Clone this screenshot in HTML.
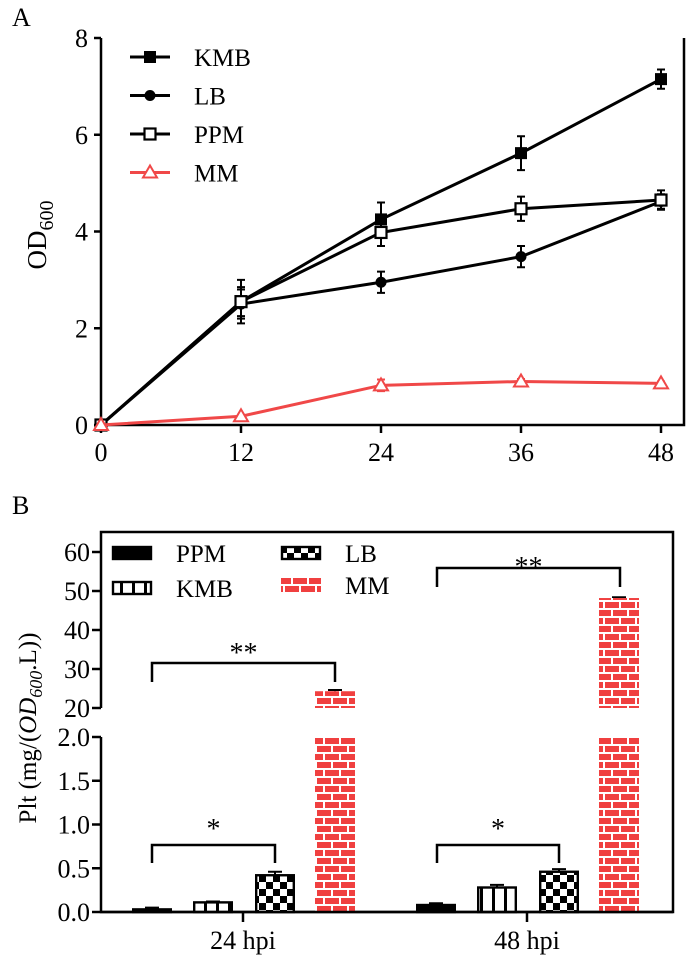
<!DOCTYPE html>
<html><head><meta charset="utf-8">
<style>
body{margin:0;background:#fff}
svg{display:block;font-family:"Liberation Serif",serif}
</style></head>
<body>
<svg id="chart" width="688" height="964" viewBox="0 0 688 964">
<defs>
<pattern id="brick" width="16" height="16" patternUnits="userSpaceOnUse" x="0" y="0">
<rect width="16" height="16" fill="#f04040"/>
<path d="M0 1H16M0 9H16M4 1V9M12 9V16" stroke="#fff" stroke-width="2"/>
</pattern>
<pattern id="checker" width="14" height="14" patternUnits="userSpaceOnUse">
<rect width="14" height="14" fill="#fff"/>
<rect width="7" height="7" fill="#000"/><rect x="7" y="7" width="7" height="7" fill="#000"/>
</pattern>
<pattern id="stripes" width="12" height="10" patternUnits="userSpaceOnUse">
<rect width="12" height="10" fill="#fff"/><rect x="0" width="3" height="10" fill="#000"/>
</pattern>
</defs>
<g id="panelA"></g>
<g id="panelB"></g>
</svg>
<script>
// Panel A data
const hours = [0, 12, 24, 36, 48];
const kmbA = [0, 2.55, 4.25, 5.62, 7.15];
const kmbErr = [0, 0.45, 0.35, 0.35, 0.2];
const lbA = [0, 2.5, 2.95, 3.48, 4.62];
const lbErr = [0, 0.3, 0.22, 0.22, 0.15];
const ppmA = [0, 2.55, 3.98, 4.47, 4.65];
const ppmErr = [0, 0.3, 0.28, 0.25, 0.2];
const mmA = [0, 0.18, 0.82, 0.9, 0.86];
const mmErr = [0, 0.03, 0.12, 0.05, 0.04];
const yTicksA = [0, 2, 4, 6, 8];
// Panel B data
const groupsB = ["24 hpi", "48 hpi"];
const mediaB = ["PPM", "KMB", "LB", "MM"];
const valB24 = [0.03, 0.11, 0.42, 24.3];
const valB48 = [0.08, 0.28, 0.46, 48.2];
const errB24 = [0.02, 0.01, 0.04, 0.3];
const errB48 = [0.02, 0.03, 0.03, 0.2];
const lowTicksB = ["0.0", "0.5", "1.0", "1.5", "2.0"];
const highTicksB = [20, 30, 40, 50, 60];

const NS = "http://www.w3.org/2000/svg";
const FS = 26;
function mk(parent, tag, attrs, text){
  const e = document.createElementNS(NS, tag);
  for (const k in attrs) e.setAttribute(k, attrs[k]);
  if (text !== undefined) e.textContent = text;
  parent.appendChild(e);
  return e;
}
// ---------- Panel A ----------
const A = document.getElementById('panelA');
const ax = h => 101 + (h / 48) * 560;
const ay = v => 425 - (v / 8) * 387;
let t = mk(A, 'text', {x: 12, y: 26, 'font-size': 26}, 'A');


let fr = mk(A, 'path', {d: `M101 38V425H684V38`, fill: 'none', stroke: '#000', 'stroke-width': 2.5});


yTicksA.forEach(v => {
  mk(A, 'line', {x1: 94, x2: 101, y1: ay(v), y2: ay(v), stroke: '#000', 'stroke-width': 2.5});
  const l = mk(A, 'text', {x: 88, y: ay(v) + 9, 'font-size': FS, 'text-anchor': 'end'}, v);
  
  
});
hours.forEach(h => {
  mk(A, 'line', {x1: ax(h), x2: ax(h), y1: 425, y2: 433, stroke: '#000', 'stroke-width': 2.5});
  const l = mk(A, 'text', {x: ax(h), y: 461, 'font-size': FS, 'text-anchor': 'middle'}, h);
  
  
});
let yt = mk(A, 'text', {transform: 'translate(46,235) rotate(-90)', 'font-size': 27, 'text-anchor': 'middle'});


mk(yt, 'tspan', {}, 'OD');
mk(yt, 'tspan', {dy: 7, 'font-size': 20}, '600');

function marker(g, type, x, y, color){
  if (type === 'sq') mk(g, 'rect', {x: x-6, y: y-6, width: 12, height: 12, fill: '#000'});
  if (type === 'circ') mk(g, 'circle', {cx: x, cy: y, r: 5.5, fill: '#000'});
  if (type === 'osq') mk(g, 'rect', {x: x-5.5, y: y-5.5, width: 11, height: 11, fill: '#fff', stroke: '#000', 'stroke-width': 2.2});
  if (type === 'tri') mk(g, 'path', {d: `M${x} ${y-7}L${x+7} ${y+5}H${x-7}Z`, fill: '#fff', stroke: color, 'stroke-width': 2});
}
const seriesA = [
  {name: 'KMB', vals: kmbA, err: kmbErr, m: 'sq', c: '#000'},
  {name: 'LB', vals: lbA, err: lbErr, m: 'circ', c: '#000'},
  {name: 'PPM', vals: ppmA, err: ppmErr, m: 'osq', c: '#000'},
  {name: 'MM', vals: mmA, err: mmErr, m: 'tri', c: '#f04848'}
];
seriesA.forEach((s, i) => {
  const g = mk(A, 'g', {});
  
  
  hours.forEach((h, j) => {
    if (s.err[j] > 0) {
      const x = ax(h), y1 = ay(s.vals[j] + s.err[j]), y2 = ay(s.vals[j] - s.err[j]);
      mk(g, 'path', {d: `M${x} ${y1}V${y2}M${x-4} ${y1}H${x+4}M${x-4} ${y2}H${x+4}`, stroke: s.c, 'stroke-width': 2, fill: 'none'});
    }
  });
  const pts = hours.map((h, j) => ax(h) + ',' + ay(s.vals[j])).join(' ');
  mk(g, 'polyline', {points: pts, fill: 'none', stroke: s.c, 'stroke-width': 3});
  hours.forEach((h, j) => marker(g, s.m, ax(h), ay(s.vals[j]), s.c));
  const ly = 57 + i * 38.5;
  const lg = mk(A, 'g', {});
  
  
  mk(lg, 'line', {x1: 130, x2: 170, y1: ly, y2: ly, stroke: s.c, 'stroke-width': 3});
  marker(lg, s.m, 150, ly, s.c);
  mk(lg, 'text', {x: 194, y: ly + 9, 'font-size': 25}, s.name);
});

// ---------- Panel B ----------
const B = document.getElementById('panelB');
const yLow = v => 912 - (v / 2) * 175;
const yHigh = v => 708 - ((v - 20) / 40) * 156;
const yB = v => v <= 2 ? yLow(v) : yHigh(v);
const groupX = [243, 527];
const offsets = [-91, -30, 32, 92];
const fills = ['#000', 'url(#stripes)', 'url(#checker)', 'url(#brick)'];
t = mk(B, 'text', {x: 12, y: 514, 'font-size': 26}, 'B');


fr = mk(B, 'path', {d: 'M101 708V532H673V912H101V737', fill: 'none', stroke: '#000', 'stroke-width': 2.5});


lowTicksB.forEach(v => {
  const y = yLow(parseFloat(v));
  mk(B, 'line', {x1: 92, x2: 101, y1: y, y2: y, stroke: '#000', 'stroke-width': 2.5});
  const l = mk(B, 'text', {x: 90, y: y + 9, 'font-size': FS, 'text-anchor': 'end'}, v);
  
  
});
highTicksB.forEach(v => {
  const y = yHigh(v);
  mk(B, 'line', {x1: 92, x2: 101, y1: y, y2: y, stroke: '#000', 'stroke-width': 2.5});
  const l = mk(B, 'text', {x: 90, y: y + 9, 'font-size': FS, 'text-anchor': 'end'}, v);
  
  
});
groupsB.forEach((gname, gi) => {
  mk(B, 'line', {x1: groupX[gi], x2: groupX[gi], y1: 912, y2: 922, stroke: '#000', 'stroke-width': 2.5});
  const l = mk(B, 'text', {x: groupX[gi], y: 949, 'font-size': FS, 'text-anchor': 'middle'}, gname);
  
  
  const vals = gi === 0 ? valB24 : valB48;
  const errs = gi === 0 ? errB24 : errB48;
  vals.forEach((v, k) => {
    const cx = groupX[gi] + offsets[k], w = 40;
    const g = mk(B, 'g', {});
    
    
    const top = v + errs[k];
    mk(g, 'path', {d: `M${cx} ${yB(v)}V${yB(top)}M${cx-7} ${yB(top)}H${cx+7}`, stroke: '#000', 'stroke-width': 2});
    if (v > 2) {
      mk(g, 'rect', {x: cx - w/2, y: yLow(2), width: w, height: 912 - yLow(2), fill: fills[k]});
      mk(g, 'rect', {x: cx - w/2, y: yHigh(v), width: w, height: 708 - yHigh(v), fill: fills[k]});
    } else {
      mk(g, 'rect', {x: cx - w/2 + 1.2, y: yLow(v), width: w - 2.4, height: 912 - yLow(v), fill: fills[k], stroke: '#000', 'stroke-width': 2.4});
    }
  });
});
mk(B, 'line', {x1: 101, x2: 673, y1: 912, y2: 912, stroke: '#000', 'stroke-width': 2.5});
function bracket(x1, x2, y, leg, label, ly){
  const g = mk(B, 'g', {});
  
  
  mk(g, 'path', {d: `M${x1} ${y+leg}V${y}H${x2}V${y+leg}`, fill: 'none', stroke: '#000', 'stroke-width': 2.5});
  mk(g, 'text', {x: (x1 + x2) / 2, y: ly, 'font-size': 28, 'text-anchor': 'middle'}, label);
}
bracket(152, 275, 845, 18, '*', 838);
bracket(437, 559, 845, 18, '*', 838);
bracket(152, 335, 663, 19, '**', 662);
bracket(437, 620, 568, 19, '**', 576);
const legPos = [[112, 553], [112, 588], [281, 553], [281, 585]];
mediaB.forEach((m, k) => {
  const g = mk(B, 'g', {});
  
  
  const [x, y] = legPos[k];
  if (k === 3) mk(g, 'rect', {x: x, y: y - 7, width: 40, height: 14, fill: 'url(#brick)'});
  else mk(g, 'rect', {x: x + 1, y: y - 6, width: 38, height: 12, fill: fills[k], stroke: '#000', 'stroke-width': 2.4});
  mk(g, 'text', {x: x + 64, y: y + 9, 'font-size': 25}, m);
});
yt = mk(B, 'text', {transform: 'translate(36,728) rotate(-90)', 'font-size': 25, 'text-anchor': 'middle'});


mk(yt, 'tspan', {}, 'Plt (mg/(');
mk(yt, 'tspan', {'font-style': 'italic'}, 'OD');
mk(yt, 'tspan', {dy: 6, 'font-size': 18, 'font-style': 'italic'}, '600');
mk(yt, 'tspan', {dy: -6}, '.L))');
</script>
</body></html>
